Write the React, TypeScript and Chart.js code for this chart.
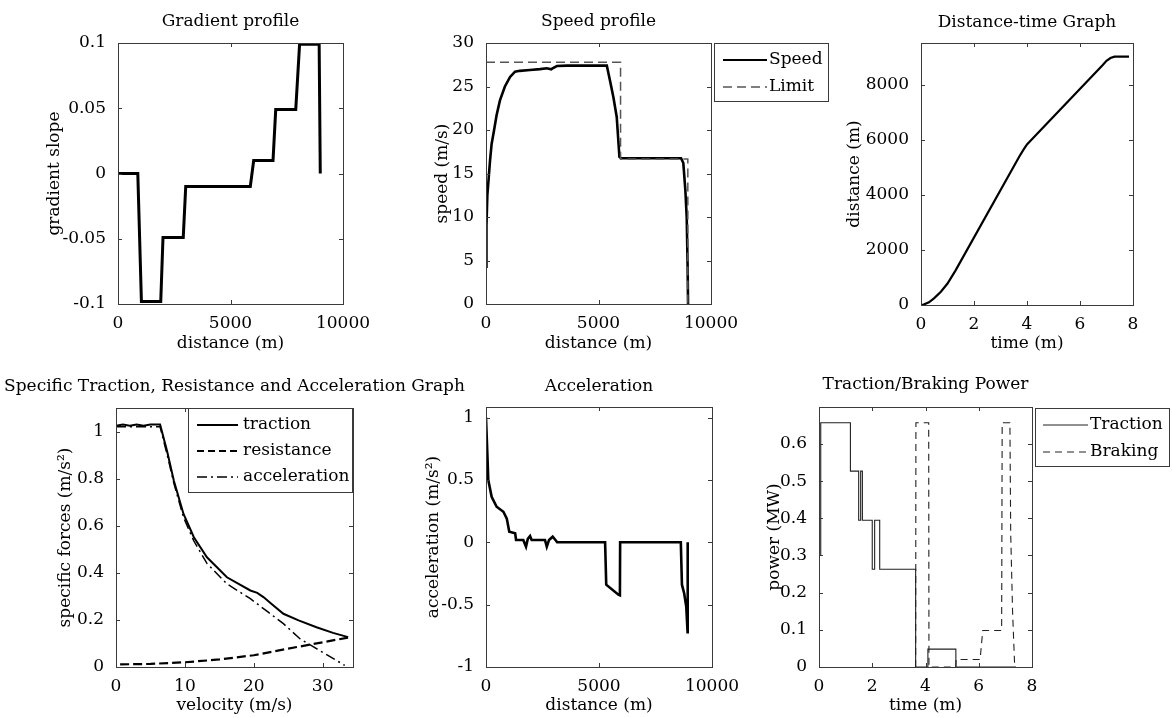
import React, { useEffect, useRef } from "react";
import { Chart, registerables } from "chart.js";
Chart.register(...registerables);

const FONT = "'DejaVu Serif', serif";
Chart.defaults.font.family = FONT;

// ---------- Gradient profile ----------
const gradDist = [0, 880, 1040, 1900, 2000, 2900, 3010, 5880, 6030, 6890, 7010, 7900, 8070, 8940, 8990];
const gradSlope = [0, 0, -0.098, -0.098, -0.049, -0.049, -0.01, -0.01, 0.01, 0.01, 0.049, 0.049, 0.099, 0.099, 0];
const gradXTicks = [0, 5000, 10000];
const gradXLabels = ["0", "5000", "10000"];
const gradYTicks = [-0.1, -0.05, 0, 0.05, 0.1];
const gradYLabels = ["-0.1", "-0.05", "0", "0.05", "0.1"];

// ---------- Speed profile ----------
const speedDist = [0, 20, 60, 120, 180, 250, 360, 470, 620, 840, 1070, 1290, 1500, 1950, 2400, 2700, 2900, 2960, 3150, 3600, 5370, 5510, 5660, 5810, 5930, 6000, 8670, 8770, 8860, 8920, 8960, 8980];
const speedVal = [4.3, 9, 12.5, 14.5, 16.5, 18.4, 20, 21.7, 23.4, 25, 26.1, 26.7, 26.8, 26.9, 27.0, 27.1, 26.98, 27.1, 27.35, 27.4, 27.4, 25.7, 23.8, 21.5, 16.9, 16.75, 16.75, 16.2, 13.1, 10, 4.5, 0];
const limitDist = [0, 5980, 5980, 8970, 8970];
const limitVal = [27.78, 27.78, 16.67, 16.67, 0];
const speedXTicks = [0, 5000, 10000];
const speedXLabels = ["0", "5000", "10000"];
const speedYTicks = [0, 5, 10, 15, 20, 25, 30];
const speedYLabels = ["0", "5", "10", "15", "20", "25", "30"];

// ---------- Distance-time ----------
const dtTime = [0, 0.1, 0.3, 0.5, 0.75, 1.0, 1.3, 3.7, 3.85, 4.0, 4.15, 6.85, 7.0, 7.15, 7.3, 7.85];
const dtDist = [0, 15, 100, 250, 480, 780, 1250, 5380, 5620, 5840, 5990, 8720, 8880, 8980, 9030, 9030];
const dtXTicks = [0, 2, 4, 6, 8];
const dtXLabels = ["0", "2", "4", "6", "8"];
const dtYTicks = [0, 2000, 4000, 6000, 8000];
const dtYLabels = ["0", "2000", "4000", "6000", "8000"];

// ---------- Specific forces ----------
const tracVel = [0, 1, 2, 3, 4, 5, 6.4, 7.4, 8.4, 9.8, 11.3, 13.2, 16.1, 19.5, 20.5, 21.4, 22.5, 24.3, 26.5, 29.1, 31.5, 33.7];
const tracForce = [1.025, 1.03, 1.025, 1.03, 1.025, 1.03, 1.03, 0.918, 0.791, 0.65, 0.551, 0.466, 0.381, 0.325, 0.315, 0.297, 0.27, 0.226, 0.198, 0.169, 0.145, 0.127];
const resVel = [0.6, 5, 10, 15, 20, 25, 30, 33.7];
const resForce = [0.011, 0.013, 0.02, 0.032, 0.05, 0.078, 0.105, 0.125];
const accVel = [0, 6.4, 7.4, 8.4, 9.8, 11.3, 13.2, 16.1, 19.5, 22, 24.3, 26.7, 29.1, 31, 33.2];
const accForce = [1.02, 1.02, 0.905, 0.78, 0.635, 0.535, 0.44, 0.353, 0.29, 0.235, 0.184, 0.12, 0.078, 0.045, 0.007];
const sfXTicks = [0, 10, 20, 30];
const sfXLabels = ["0", "10", "20", "30"];
const sfYTicks = [0, 0.2, 0.4, 0.6, 0.8, 1];
const sfYLabels = ["0", "0.2", "0.4", "0.6", "0.8", "1"];

// ---------- Acceleration ----------
const accDist = [0, 60, 100, 250, 470, 770, 920, 1030, 1290, 1330, 1650, 1770, 1850, 1950, 2020, 2610, 2690, 2790, 2950, 3100, 3150, 5270, 5320, 5860, 5925, 5935, 8620, 8670, 8770, 8860, 8920, 8925];
const accVal = [1.0, 0.71, 0.5, 0.365, 0.285, 0.245, 0.19, 0.085, 0.072, 0.019, 0.019, -0.035, 0.027, 0.05, 0.019, 0.019, -0.035, 0.019, 0.045, 0.013, 0, 0, -0.34, -0.42, -0.425, 0, 0, -0.34, -0.41, -0.515, -0.72, 0];
const acXTicks = [0, 5000, 10000];
const acXLabels = ["0", "5000", "10000"];
const acYTicks = [-1, -0.5, 0, 0.5, 1];
const acYLabels = ["-1", "-0.5", "0", "0.5", "1"];

// ---------- Traction / Braking power ----------
const tracTime = [0.06, 0.065, 1.18, 1.18, 1.49, 1.49, 1.565, 1.565, 1.63, 1.63, 2.0, 2.0, 2.09, 2.09, 2.28, 2.28, 3.63, 3.63, 4.09, 4.09, 5.14, 5.14, 7.4];
const tracPower = [0.3, 0.657, 0.657, 0.527, 0.527, 0.395, 0.395, 0.527, 0.527, 0.395, 0.395, 0.263, 0.263, 0.395, 0.395, 0.263, 0.263, 0, 0, 0.048, 0.048, 0, 0];
const brakeTime = [3.63, 3.64, 4.12, 4.13, 5.14, 5.15, 6.05, 6.15, 6.86, 6.88, 7.17, 7.2, 7.27, 7.35];
const brakePower = [0, 0.657, 0.657, 0, 0, 0.02, 0.02, 0.098, 0.098, 0.657, 0.657, 0.36, 0.15, 0];
const pwXTicks = [0, 2, 4, 6, 8];
const pwXLabels = ["0", "2", "4", "6", "8"];
const pwYTicks = [0, 0.1, 0.2, 0.3, 0.4, 0.5, 0.6];
const pwYLabels = ["0", "0.1", "0.2", "0.3", "0.4", "0.5", "0.6"];

// ---------- helpers ----------
const pts = (xs: number[], ys: number[]) => xs.map((x, i) => ({ x, y: ys[i] }));
const ds = (xs: number[], ys: number[], color: string, width: number, dash: number[] = []) => ({
  data: pts(xs, ys),
  borderColor: color,
  backgroundColor: color,
  borderWidth: width,
  borderDash: dash,
  fill: false,
  pointRadius: 0,
  tension: 0,
});

type Rect = { l: number; t: number; r: number; b: number };
type LegendItem = { label: string; color: string; width: number; dash: number[] };
type Spec = {
  canvas: { x: number; y: number; w: number; h: number };
  plot: Rect;
  xMin: number; xMax: number; yMin: number; yMax: number;
  xTicks: number[]; xLabels: string[]; yTicks: number[]; yLabels: string[];
  title: string; titleY: number; xLabel: string; xLabelY: number; yLabel: string; yLabelX: number;
  datasets: any[];
  legend?: { box: Rect; x0: number; x1: number; tx: number; rows: number[]; items: LegendItem[] };
};

const PLOTS: Spec[] = [
  {
    canvas: { x: 0, y: 0, w: 390, h: 360 }, plot: { l: 118, t: 43, r: 343, b: 304 },
    xMin: 0, xMax: 10000, yMin: -0.1, yMax: 0.1,
    xTicks: gradXTicks, xLabels: gradXLabels, yTicks: gradYTicks, yLabels: gradYLabels,
    title: "Gradient profile", titleY: 22, xLabel: "distance (m)", xLabelY: 344, yLabel: "gradient slope", yLabelX: 55,
    datasets: [ds(gradDist, gradSlope, "#000", 3)],
  },
  {
    canvas: { x: 390, y: 0, w: 450, h: 360 }, plot: { l: 486, t: 43, r: 711, b: 304 },
    xMin: 0, xMax: 10000, yMin: 0, yMax: 30,
    xTicks: speedXTicks, xLabels: speedXLabels, yTicks: speedYTicks, yLabels: speedYLabels,
    title: "Speed profile", titleY: 22, xLabel: "distance (m)", xLabelY: 344, yLabel: "speed (m/s)", yLabelX: 443,
    datasets: [ds(limitDist, limitVal, "#555", 1.5, [9, 5]), ds(speedDist, speedVal, "#000", 2.6)],
    legend: {
      box: { l: 714, t: 43, r: 828, b: 101 }, x0: 723, x1: 767, tx: 769, rows: [60, 87],
      items: [
        { label: "Speed", color: "#000", width: 2.2, dash: [] },
        { label: "Limit", color: "#555", width: 1.3, dash: [9, 5] },
      ],
    },
  },
  {
    canvas: { x: 840, y: 0, w: 332, h: 360 }, plot: { l: 921, t: 43, r: 1133, b: 305 },
    xMin: 0, xMax: 8, yMin: 0, yMax: 9527,
    xTicks: dtXTicks, xLabels: dtXLabels, yTicks: dtYTicks, yLabels: dtYLabels,
    title: "Distance-time Graph", titleY: 23, xLabel: "time (m)", xLabelY: 344, yLabel: "distance (m)", yLabelX: 855,
    datasets: [ds(dtTime, dtDist, "#000", 2.2)],
  },
  {
    canvas: { x: 0, y: 360, w: 470, h: 358 }, plot: { l: 116, t: 408, r: 353, b: 667 },
    xMin: 0, xMax: 34.4, yMin: 0, yMax: 1.1,
    xTicks: sfXTicks, xLabels: sfXLabels, yTicks: sfYTicks, yLabels: sfYLabels,
    title: "Specific Traction, Resistance and Acceleration Graph", titleY: 387, xLabel: "velocity (m/s)", xLabelY: 706,
    yLabel: "specific forces (m/s\u00B2)", yLabelX: 66,
    datasets: [
      ds(tracVel, tracForce, "#000", 2),
      ds(resVel, resForce, "#000", 2.2, [9, 4]),
      ds(accVel, accForce, "#000", 1.5, [10, 4, 2, 4]),
    ],
    legend: {
      box: { l: 188, t: 408, r: 352, b: 492 }, x0: 197, x1: 238, tx: 243, rows: [425, 451, 477],
      items: [
        { label: "traction", color: "#000", width: 2, dash: [] },
        { label: "resistance", color: "#000", width: 2, dash: [7, 4] },
        { label: "acceleration", color: "#000", width: 1.5, dash: [10, 4, 2, 4] },
      ],
    },
  },
  {
    canvas: { x: 400, y: 360, w: 380, h: 358 }, plot: { l: 486, t: 407, r: 712, b: 667 },
    xMin: 0, xMax: 10000, yMin: -1, yMax: 1.085,
    xTicks: acXTicks, xLabels: acXLabels, yTicks: acYTicks, yLabels: acYLabels,
    title: "Acceleration", titleY: 387, xLabel: "distance (m)", xLabelY: 706, yLabel: "acceleration (m/s\u00B2)", yLabelX: 434,
    datasets: [ds(accDist, accVal, "#000", 2.6)],
  },
  {
    canvas: { x: 740, y: 360, w: 432, h: 358 }, plot: { l: 819, t: 407, r: 1032, b: 667 },
    xMin: 0, xMax: 8, yMin: 0, yMax: 0.6995,
    xTicks: pwXTicks, xLabels: pwXLabels, yTicks: pwYTicks, yLabels: pwYLabels,
    title: "Traction/Braking Power", titleY: 385, xLabel: "time (m)", xLabelY: 706, yLabel: "power (MW)", yLabelX: 775,
    datasets: [ds(tracTime, tracPower, "#222", 1.1), ds(brakeTime, brakePower, "#222", 1.1, [7, 5])],
    legend: {
      box: { l: 1035, t: 408, r: 1169, b: 466 }, x0: 1043, x1: 1088, tx: 1090, rows: [425, 452],
      items: [
        { label: "Traction", color: "#222", width: 1.1, dash: [] },
        { label: "Braking", color: "#222", width: 1.1, dash: [7, 5] },
      ],
    },
  },
];

const AXIS = "#3a3a3a";
const FS = 17;

function makeChart(canvas: HTMLCanvasElement, s: Spec) {
  const Wy = 70;
  const Hx = 30;
  const cx = s.canvas.x;
  const cy = s.canvas.y;
  const padding = {
    left: Math.max(0, s.plot.l - cx - Wy),
    top: s.plot.t - cy,
    right: cx + s.canvas.w - s.plot.r,
    bottom: cy + s.canvas.h - s.plot.b - Hx,
  };
  const wy = s.plot.l - cx - padding.left;
  const fmt = (ticks: number[], labels: string[]) => (value: any) => {
    const v = Number(value);
    const i = ticks.findIndex((t) => Math.abs(t - v) < 1e-9 * Math.max(1, Math.abs(t)));
    return i >= 0 ? labels[i] : "";
  };
  const frame = {
    id: "frame",
    afterDraw(chart: any) {
      const ctx = chart.ctx as CanvasRenderingContext2D;
      const a = chart.chartArea;
      const xs = chart.scales.x;
      const ys = chart.scales.y;
      ctx.save();
      ctx.strokeStyle = AXIS;
      ctx.lineWidth = 1;
      ctx.setLineDash([]);
      ctx.strokeRect(a.left + 0.5, a.top + 0.5, a.right - a.left, a.bottom - a.top);
      const TL = 4;
      ctx.beginPath();
      s.xTicks.forEach((v) => {
        const px = Math.round(xs.getPixelForValue(v)) + 0.5;
        ctx.moveTo(px, a.bottom);
        ctx.lineTo(px, a.bottom - TL);
        ctx.moveTo(px, a.top);
        ctx.lineTo(px, a.top + TL);
      });
      s.yTicks.forEach((v) => {
        const py = Math.round(ys.getPixelForValue(v)) + 0.5;
        ctx.moveTo(a.left, py);
        ctx.lineTo(a.left + TL, py);
        ctx.moveTo(a.right, py);
        ctx.lineTo(a.right - TL, py);
      });
      ctx.stroke();

      ctx.fillStyle = "#000";
      ctx.font = `${FS}px ${FONT}`;
      ctx.textAlign = "center";
      ctx.textBaseline = "middle";
      const mx = (a.left + a.right) / 2;
      ctx.fillText(s.title, mx, s.titleY - cy);
      ctx.fillText(s.xLabel, mx, s.xLabelY - cy);
      ctx.save();
      ctx.translate(s.yLabelX - cx, (a.top + a.bottom) / 2);
      ctx.rotate(-Math.PI / 2);
      ctx.fillText(s.yLabel, 0, 0);
      ctx.restore();

      if (s.legend) {
        const L = s.legend;
        ctx.fillStyle = "#fff";
        ctx.fillRect(L.box.l - cx, L.box.t - cy, L.box.r - L.box.l, L.box.b - L.box.t);
        ctx.strokeStyle = AXIS;
        ctx.lineWidth = 1;
        ctx.strokeRect(L.box.l - cx + 0.5, L.box.t - cy + 0.5, L.box.r - L.box.l, L.box.b - L.box.t);
        L.items.forEach((it, i) => {
          const y = L.rows[i] - cy;
          ctx.beginPath();
          ctx.strokeStyle = it.color;
          ctx.lineWidth = it.width;
          ctx.setLineDash(it.dash);
          ctx.moveTo(L.x0 - cx, y);
          ctx.lineTo(L.x1 - cx, y);
          ctx.stroke();
          ctx.setLineDash([]);
          ctx.fillStyle = "#000";
          ctx.textAlign = "left";
          ctx.fillText(it.label, L.tx - cx, y);
        });
      }
      ctx.restore();
    },
  };

  return new Chart(canvas, {
    type: "line",
    data: { datasets: s.datasets },
    options: {
      responsive: false,
      animation: false,
      devicePixelRatio: 1,
      events: [],
      layout: { padding },
      plugins: { legend: { display: false }, title: { display: false }, tooltip: { enabled: false } },
      elements: { point: { radius: 0 }, line: { tension: 0 } },
      scales: {
        x: {
          type: "linear",
          min: s.xMin,
          max: s.xMax,
          grid: { display: false },
          border: { display: false },
          ticks: {
            font: { family: FONT, size: FS },
            color: "#000",
            padding: 1,
            autoSkip: false,
            maxRotation: 0,
            includeBounds: false,
            callback: fmt(s.xTicks, s.xLabels),
          },
          afterBuildTicks: (sc: any) => {
            sc.ticks = s.xTicks.map((v) => ({ value: v }));
          },
          afterFit: (sc: any) => {
            sc.height = Hx;
          },
        },
        y: {
          type: "linear",
          min: s.yMin,
          max: s.yMax,
          grid: { display: false },
          border: { display: false },
          ticks: {
            font: { family: FONT, size: FS },
            color: "#000",
            padding: 4,
            autoSkip: false,
            includeBounds: false,
            callback: fmt(s.yTicks, s.yLabels),
          },
          afterBuildTicks: (sc: any) => {
            sc.ticks = s.yTicks.map((v) => ({ value: v }));
          },
          afterFit: (sc: any) => {
            sc.width = wy;
          },
        },
      },
    } as any,
    plugins: [frame],
  });
}

export default function App() {
  const refs = useRef<(HTMLCanvasElement | null)[]>([]);
  useEffect(() => {
    const charts = PLOTS.map((spec, i) => makeChart(refs.current[i] as HTMLCanvasElement, spec));
    return () => charts.forEach((c) => c.destroy());
  }, []);
  return (
    <div style={{ position: "fixed", left: 0, top: 0, width: 1172, height: 718, background: "#fff", overflow: "hidden" }}>
      {PLOTS.map((p, i) => (
        <canvas
          key={i}
          ref={(el) => {
            refs.current[i] = el;
          }}
          width={p.canvas.w}
          height={p.canvas.h}
          style={{ position: "absolute", left: p.canvas.x, top: p.canvas.y, width: p.canvas.w, height: p.canvas.h }}
        />
      ))}
    </div>
  );
}
